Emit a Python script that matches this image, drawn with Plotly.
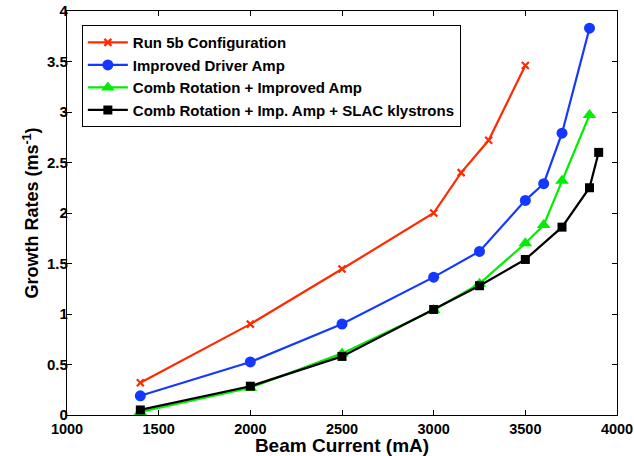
import plotly.graph_objects as go

# Beam current (mA) and growth rates (ms^-1) for each configuration
run5b_current = [1400, 2000, 2500, 3000, 3150, 3300, 3500]
run5b_rate = [0.32, 0.90, 1.445, 2.0, 2.40, 2.72, 3.46]

driver_current = [1400, 2000, 2500, 3000, 3250, 3500, 3600, 3700, 3850]
driver_rate = [0.19, 0.525, 0.90, 1.365, 1.62, 2.125, 2.29, 2.79, 3.83]

comb_current = [1400, 2000, 2500, 3000, 3250, 3500, 3600, 3700, 3850]
comb_rate = [0.03, 0.27, 0.61, 1.04, 1.30, 1.70, 1.88, 2.32, 2.97]

slac_current = [1400, 2000, 2500, 3000, 3250, 3500, 3700, 3850, 3900]
slac_rate = [0.05, 0.285, 0.58, 1.045, 1.28, 1.54, 1.86, 2.25, 2.60]

x_ticks = [1000, 1500, 2000, 2500, 3000, 3500, 4000]
y_ticks = [0, 0.5, 1, 1.5, 2, 2.5, 3, 3.5, 4]

series = [
    ("Run 5b Configuration", run5b_current, run5b_rate, "#ff2a00",
     dict(symbol="x-thin", size=7, line=dict(width=2.2, color="#ff2a00"))),
    ("Improved Driver Amp", driver_current, driver_rate, "#1438ff",
     dict(symbol="circle", size=11)),
    ("Comb Rotation + Improved Amp", comb_current, comb_rate, "#00ee00",
     dict(symbol="triangle-up", size=12)),
    ("Comb Rotation + Imp. Amp + SLAC klystrons", slac_current, slac_rate, "#000000",
     dict(symbol="square", size=9)),
]

fig = go.Figure()
for name, xs, ys, color, marker in series:
    fig.add_trace(go.Scatter(
        x=xs, y=ys, name=name, mode="lines+markers",
        line=dict(color=color, width=2.2),
        marker=dict(color=color, **marker),
    ))

axis_common = dict(
    showgrid=False, zeroline=False, showline=True, linecolor="black",
    linewidth=1.2, mirror="ticks", ticks="inside", ticklen=5,
    tickcolor="black", tickwidth=1, automargin=False,
)

fig.update_xaxes(range=[1000, 4000], tickvals=x_ticks,
                 ticktext=[str(v) for v in x_ticks],
                 tickfont=dict(family="Liberation Sans", size=14.5, color="black", weight="bold"),
                 title=dict(text="<b>Beam Current (mA)</b>", standoff=4,
                            font=dict(family="Liberation Sans", size=19, color="black")),
                 **axis_common)
fig.update_yaxes(range=[0, 4], tickvals=y_ticks,
                 ticktext=[f"{v:g}" for v in y_ticks],
                 ticklabelstandoff=-5,
                 tickfont=dict(family="Liberation Sans", size=15, color="black", weight="bold"),
                 title=dict(text="<b>Growth Rates (ms<sup>-1</sup>)</b>", standoff=3,
                            font=dict(family="Liberation Sans", size=18, color="black")),
                 **axis_common)

fig.update_layout(
    width=634, height=456,
    margin=dict(l=67, r=17, t=11, b=41),
    paper_bgcolor="white", plot_bgcolor="white",
    showlegend=True,
    legend=dict(
        x=0.027, y=0.965, xanchor="left", yanchor="top",
        bordercolor="black", borderwidth=1, bgcolor="white",
        font=dict(family="Liberation Sans", size=15, color="black", weight="bold"),
        tracegroupgap=0, itemwidth=40,
    ),
)

fig.write_html("out.html")
